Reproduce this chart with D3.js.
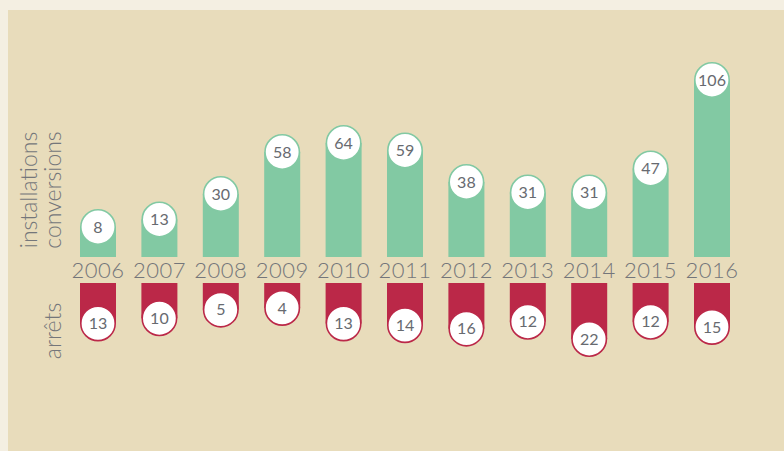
<!DOCTYPE html>
<html lang="fr">
	<head>
		<meta charset="utf-8">
		<title>Installations / arrêts</title>
		<script type="text/javascript" src="https://cdn.jsdelivr.net/npm/d3@7/dist/d3.min.js"></script>
		<style type="text/css">
			body { margin: 0; background: #f4efe2; }
			svg { display: block; }
		</style>
	</head>
	<body>
		<script type="text/javascript">

			// data
			var years = ["2006", "2007", "2008", "2009", "2010", "2011", "2012", "2013", "2014", "2015", "2016"];
			var installations = [8, 13, 30, 58, 64, 59, 38, 31, 31, 47, 106];
			var arrets = [13, 10, 5, 4, 13, 14, 16, 12, 22, 12, 15];

			var w = 784, h = 451;
			var green = "#82c9a3", red = "#bb2848", grey = "#676a70";
			var font = "Lato, 'Noto Sans', sans-serif";

			var barW = 36, r = 18;
			var baseTop = 257;    // bottom of green bars
			var baseBot = 283;    // top of red bars

			var svg = d3.select("body").append("svg")
				.attr("width", w)
				.attr("height", h);

			// panel
			svg.append("rect")
				.attr("x", 8).attr("y", 10)
				.attr("width", w - 8).attr("height", h - 10)
				.attr("fill", "#e8dcbb");

			var xScale = d3.scalePoint()
				.domain(years)
				.range([98, 712]);

			// bar length beyond the label circle
			var upScale = d3.scaleLinear().domain([0, 106]).range([0, 159]);
			var downScale = d3.scaleLinear().domain([0, 22]).range([0, 38]);

			var up = svg.append("g");
			var upG = up.selectAll("g")
				.data(installations)
				.enter()
				.append("g")
				.attr("transform", function(d, i) { return "translate(" + xScale(years[i]) + ",0)"; });

			upG.append("rect")
				.attr("x", -barW / 2)
				.attr("width", barW)
				.attr("y", function(d) { return baseTop - upScale(d) - r; })
				.attr("height", function(d) { return upScale(d) + r; })
				.attr("fill", green);

			upG.append("circle")
				.attr("cy", function(d) { return baseTop - upScale(d) - r; })
				.attr("r", r - 0.8)
				.attr("fill", "#fff")
				.attr("stroke", green)
				.attr("stroke-width", 1.6);

			upG.append("text")
				.attr("y", function(d) { return baseTop - upScale(d) - r; })
				.attr("dy", "0.36em")
				.attr("text-anchor", "middle")
				.attr("font-family", font)
				.attr("font-size", "16px")
				.attr("fill", grey)
				.text(function(d) { return d; });

			var down = svg.append("g");
			var downG = down.selectAll("g")
				.data(arrets)
				.enter()
				.append("g")
				.attr("transform", function(d, i) { return "translate(" + xScale(years[i]) + ",0)"; });

			downG.append("rect")
				.attr("x", -barW / 2)
				.attr("width", barW)
				.attr("y", baseBot)
				.attr("height", function(d) { return downScale(d) + r; })
				.attr("fill", red);

			downG.append("circle")
				.attr("cy", function(d) { return baseBot + downScale(d) + r; })
				.attr("r", r - 0.8)
				.attr("fill", "#fff")
				.attr("stroke", red)
				.attr("stroke-width", 1.6);

			downG.append("text")
				.attr("y", function(d) { return baseBot + downScale(d) + r; })
				.attr("dy", "0.36em")
				.attr("text-anchor", "middle")
				.attr("font-family", font)
				.attr("font-size", "16px")
				.attr("fill", grey)
				.text(function(d) { return d; });

			// year labels
			svg.append("g").selectAll("text")
				.data(years)
				.enter()
				.append("text")
				.attr("x", function(d) { return xScale(d); })
				.attr("y", 278)
				.attr("text-anchor", "middle")
				.attr("font-family", font)
				.attr("font-weight", 300)
				.attr("font-size", "22px")
				.attr("letter-spacing", "0.5px")
				.attr("fill", "#74767a")
				.text(function(d) { return d; });

			// side titles
			function sideLabel(txt, x, y) {
				svg.append("text")
					.attr("transform", "translate(" + x + "," + y + ") rotate(-90)")
					.attr("text-anchor", "middle")
					.attr("font-family", font)
					.attr("font-weight", 300)
					.attr("font-size", "23px")
					.attr("fill", "#74767a")
					.text(txt);
			}
			sideLabel("installations", 37, 190);
			sideLabel("conversions", 61, 190);
			sideLabel("arrêts", 61, 331);

		</script>
	</body>
</html>
